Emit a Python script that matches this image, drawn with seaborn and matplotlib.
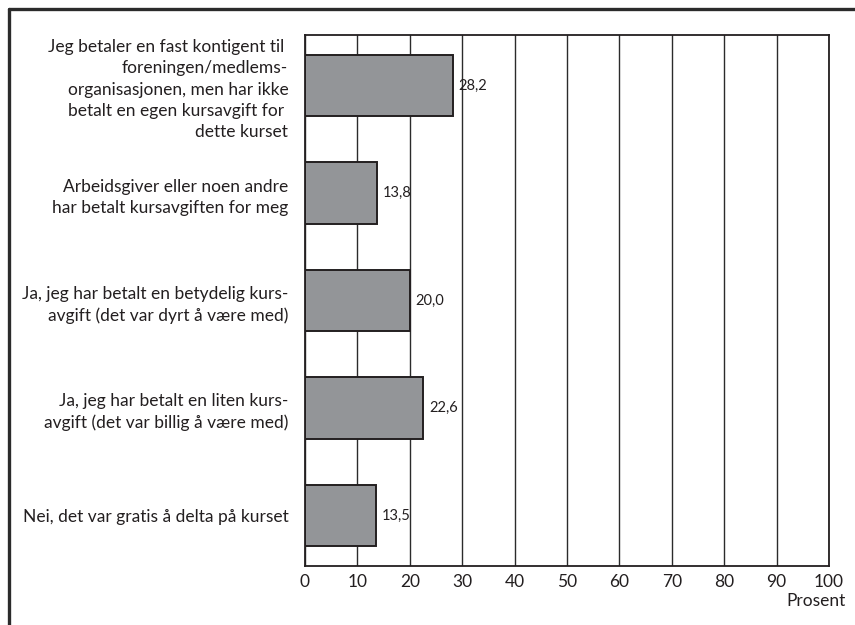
import matplotlib
matplotlib.use("Agg")
import matplotlib.pyplot as plt
from matplotlib.lines import Line2D
import seaborn as sns
import pandas as pd

categories = [
    "Jeg betaler en fast kontigent til \nforeningen/medlems-\norganisasjonen, men har ikke\nbetalt en egen kursavgift for \ndette kurset",
    "Arbeidsgiver eller noen andre\nhar betalt kursavgiften for meg",
    "Ja, jeg har betalt en betydelig kurs-\navgift (det var dyrt å være med)",
    "Ja, jeg har betalt en liten kurs-\navgift (det var billig å være med)",
    "Nei, det var gratis å delta på kurset",
]
values = [28.2, 13.8, 20.0, 22.6, 13.5]
x_ticks = [0, 10, 20, 30, 40, 50, 60, 70, 80, 90, 100]
x_label = "Prosent"

sns.set_theme(style="white")
plt.rcParams["font.family"] = ["Lato", "DejaVu Sans"]

df = pd.DataFrame({"kategori": categories, "prosent": values})

fig = plt.figure(figsize=(8.55, 6.25), dpi=100)
ax = fig.add_axes([305 / 855, 1 - 566 / 625, (829 - 305) / 855, (566 - 35) / 625])

ax.set_axisbelow(True)
ax.grid(axis="x", color="#2b2b2b", linewidth=1.0)
ax.grid(axis="y", visible=False)

sns.barplot(data=df, y="kategori", x="prosent", orient="h", color="#939598",
            saturation=1, width=0.575, edgecolor="#231f20", linewidth=1.4, ax=ax)

ax.bar_label(ax.containers[0],
             labels=[f"{v:.1f}".replace(".", ",") for v in values],
             padding=4, fontsize=10.5, color="#231f20")

ax.set_xlim(0, 100)
ax.set_ylim(len(categories) - 0.53, -0.47)
ax.set_xticks(x_ticks)
ax.set_xticklabels([str(t) for t in x_ticks], fontsize=12.5, color="#231f20")
ax.set_yticklabels(categories, fontsize=12.5, color="#231f20", linespacing=1.4)
ax.tick_params(axis="both", length=0)
ax.tick_params(axis="x", pad=6)
ax.tick_params(axis="y", pad=12)
ax.set_ylabel("")
ax.set_xlabel("")
for side in ["left", "right", "top", "bottom"]:
    ax.spines[side].set_visible(True)
    ax.spines[side].set_color("#231f20")
    ax.spines[side].set_linewidth(1.3)

fig.text(846 / 855, 1 - 601 / 625, x_label, ha="right", va="center",
         fontsize=12.5, color="#231f20")

# open frame around the figure: top and left edges only
fig.add_artist(Line2D([9 / 855, 1.0], [1 - 9 / 625, 1 - 9 / 625],
                      transform=fig.transFigure, color="#2b2b2b", linewidth=2.4))
fig.add_artist(Line2D([9 / 855, 9 / 855], [0.0, 1 - 9 / 625],
                      transform=fig.transFigure, color="#2b2b2b", linewidth=2.4))

fig.savefig("out.png", dpi=100)
